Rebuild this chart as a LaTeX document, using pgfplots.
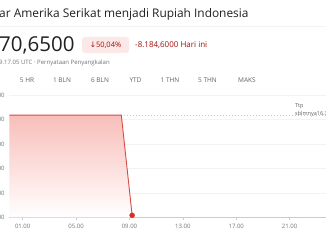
\documentclass[border=0pt]{standalone}
\usepackage{pgfplots}
\pgfplotsset{compat=1.18}
\usepackage{fontspec}
\setmainfont{Open Sans}
\newfontfamily\symfont{DejaVu Sans}
\definecolor{txtdark}{RGB}{32,33,36}
\definecolor{txtgray}{RGB}{112,117,122}
\definecolor{tabgray}{RGB}{95,99,104}
\definecolor{badgebg}{RGB}{252,232,230}
\definecolor{downred}{RGB}{165,14,14}
\definecolor{linered}{RGB}{214,76,68}
\definecolor{dotred}{RGB}{217,48,37}
\definecolor{fillpink}{RGB}{248,190,185}
\definecolor{gridc}{RGB}{241,243,244}
\definecolor{axisc}{RGB}{200,203,207}
\begin{document}
\begin{tikzpicture}[x=1pt,y=1pt]
\useasboundingbox (0,0) rectangle (326,245);
\clip (0,0) rectangle (326,245);
\fill[white] (0,0) rectangle (326,245);
% header
\node[anchor=base west, inner sep=0pt, text=txtdark] at (-1,227) {\fontsize{11.9}{14}\selectfont ar Amerika Serikat menjadi Rupiah Indonesia};
\draw[gridc, line width=0.6pt] (0,219) -- (326,219);
\node[anchor=base west, inner sep=0pt, text=txtdark] at (-1,193) {\fontsize{20.5}{24}\selectfont 70,6500};
\fill[badgebg, rounded corners=3pt] (82,192) rectangle (129,208);
\node[anchor=center, inner sep=0pt, text=downred] at (105.5,200) {\fontsize{7.5}{9}\selectfont{\symfont ↓}50,04\%};
\node[anchor=base west, inner sep=0pt, text=downred] at (135,197) {\fontsize{8}{10}\selectfont -8.184,6000 Hari ini};
\node[anchor=base west, inner sep=0pt, text=txtgray] at (-1,180) {\fontsize{6}{7}\selectfont 9.17.05 UTC · Pernyataan Penyangkalan};
\foreach \xx/\tt in {27/5 HR, 62/1 BLN, 100/6 BLN, 135.5/YTD, 170/1 THN, 207.5/5 THN, 247/MAKS}{
  \node[anchor=base, inner sep=0pt, text=tabgray] at (\xx,162) {\fontsize{6.5}{8}\selectfont \tt};
}
\node[anchor=base, inner sep=0pt, text=tabgray] at (-4,162) {\fontsize{6.5}{8}\selectfont HR};
% chart
\begin{axis}[
  at={(7,22.5)}, anchor=south west,
  scale only axis, width=319pt, height=122.5pt,
  xmin=0, xmax=23.9, ymin=8000, ymax=18000,
  axis x line*=bottom, axis y line*=left,
  axis line style={-},
  x axis line style={axisc, line width=0.6pt},
  y axis line style={draw=none},
  xtick={1,5,9,13,17,21},
  xticklabels={01.00,05.00,09.00,13.00,17.00,21.00},
  ytick={8000,10000,12000,14000,16000,18000},
  yticklabels={8.000,10.000,12.000,14.000,16.000,18.000},
  scaled y ticks=false,
  ymajorgrids, major grid style={gridc, line width=0.6pt},
  tick align=outside, major tick length=2.5pt,
  xtick style={axisc, line width=0.6pt},
  ytick style={draw=none},
  tick label style={font=\fontsize{6}{7}\selectfont, text=txtgray},
  xticklabel style={yshift=-1pt},
  yticklabel style={anchor=east, inner sep=0pt, xshift=-2pt},
  clip=false,
]
\addplot[draw=none, top color=fillpink, bottom color=white, shading=axis] coordinates {(0,16355.25) (8.39,16355.25) (9.2,8170.65)} \closedcycle;
\addplot[color=gray!45, line width=0.6pt, dash pattern=on 0.8pt off 2.2pt] coordinates {(8.6,16355.25) (24,16355.25)};
\addplot[color=linered, line width=0.9pt] coordinates {(0,16355.25) (8.39,16355.25) (9.2,8170.65)};
\addplot[only marks, mark=*, mark size=2.5pt, color=dotred] coordinates {(9.2,8170.65)};
\end{axis}
\node[anchor=base west, inner sep=0pt, text=tabgray, align=left] at (295,137) {\fontsize{5.5}{6.5}\selectfont Ttp};
\node[anchor=base west, inner sep=0pt, text=tabgray, align=left] at (295,129) {\fontsize{5.5}{6.5}\selectfont sblmnya16.355,25};
\end{tikzpicture}
\end{document}
